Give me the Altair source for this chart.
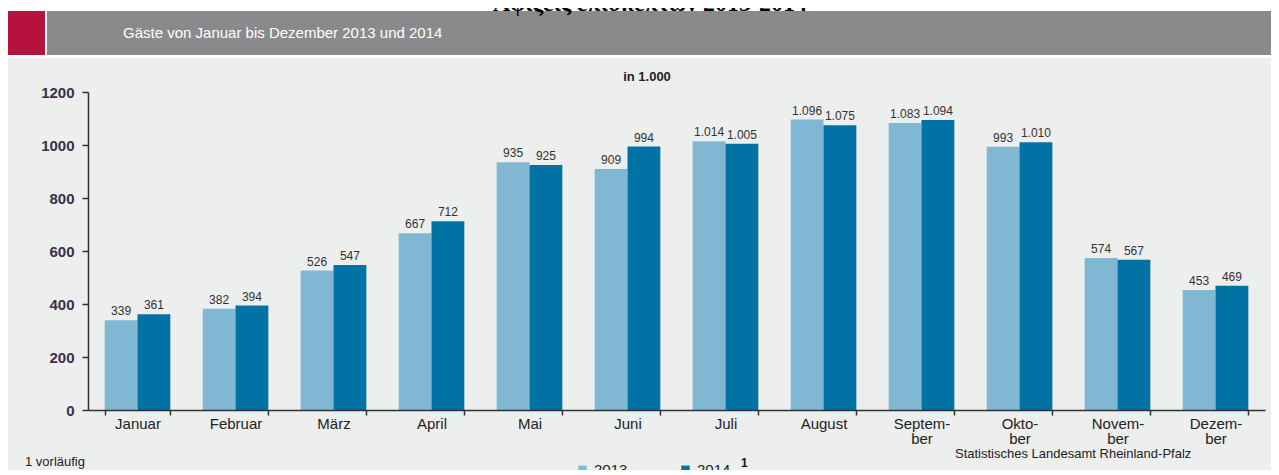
import altair as alt
import pandas as pd

months = ["Januar", "Februar", "März", "April", "Mai", "Juni", "Juli", "August",
          "Septem-|ber", "Okto-|ber", "Novem-|ber", "Dezem-|ber"]
years = ["2013", "2014"]
v2013 = [339, 382, 526, 667, 935, 909, 1014, 1096, 1083, 993, 574, 453]
v2014 = [361, 394, 547, 712, 925, 994, 1005, 1075, 1094, 1010, 567, 469]
y_ticks = [0, 200, 400, 600, 800, 1000, 1200]

rows = []
for m, a, b in zip(months, v2013, v2014):
    rows.append({"Monat": m, "Jahr": "2013", "Wert": a})
    rows.append({"Monat": m, "Jahr": "2014", "Wert": b})
df = pd.DataFrame(rows)

W, H = 1177, 318
one = alt.Data(values=[{}])

def rect(x, x2, y, y2, color):
    return alt.Chart(one).mark_rect(color=color).encode(
        x=alt.value(x), x2=alt.value(x2), y=alt.value(y), y2=alt.value(y2))

def label(text, x, y, size, color="#333333", weight="normal", font="Liberation Sans",
          align="left", baseline="middle"):
    return alt.Chart(one).mark_text(
        text=text, fontSize=size, color=color, fontWeight=weight, font=font,
        align=align, baseline=baseline).encode(x=alt.value(x), y=alt.value(y))

greek = label("Αφίξεις επισκεπτών 2013-2014", 562, -81, 24, color="#000000",
              weight="bold", font="Liberation Serif", align="center", baseline="alphabetic")
bg = rect(-85, 1191, -34, 380, "#edeeee")
crimson = rect(-85, -43, -81, -37, "#b5123e")
header = rect(-41, 1191, -81, -37, "#8a8a8c")
header_text = label("Gäste von Januar bis Dezember 2013 und 2014", 35, -59, 15, color="#ffffff")
unit = label("in 1.000", 559, -15, 13, color="#222222", weight="bold", align="center")
footnote = label("1 vorläufig", -63, 370, 13, color="#222222")
source = label("Statistisches Landesamt Rheinland-Pfalz", 867, 362, 13, color="#222222")
sup = label("1", 653, 371, 12, color="#111111", weight="bold")

x_enc = alt.X("Monat:N", sort=months, title=None,
              scale=alt.Scale(paddingInner=0.33, paddingOuter=0.17),
              axis=alt.Axis(labelAngle=0, labelExpr="split(datum.label, '|')",
                            labelFontSize=15, labelColor="#222222", labelFont="Liberation Sans",
                            labelLineHeight=15, labelPadding=1, tickBand="extent",
                            tickSize=5, tickColor="#333333", domainColor="#333333",
                            domainWidth=1.5, tickWidth=1.5, zindex=2))

bars = alt.Chart(df).mark_bar().encode(
    x=x_enc,
    xOffset=alt.XOffset("Jahr:N", sort=years, scale=alt.Scale(paddingInner=0, paddingOuter=0)),
    y=alt.Y("Wert:Q", title=None, scale=alt.Scale(domain=[0, 1200], nice=False),
            axis=alt.Axis(values=y_ticks, format="d", labelFontSize=15, labelColor="#3a2f4a",
                          labelFont="Liberation Sans", labelFontWeight="bold",
                          labelPadding=8, tickSize=6, tickColor="#333333",
                          domainColor="#333333", domainWidth=1.5, tickWidth=1.5, grid=False,
                          zindex=2)),
    color=alt.Color("Jahr:N", sort=years,
                    scale=alt.Scale(domain=years, range=["#80b8d3", "#0072a3"]),
                    legend=alt.Legend(title=None, orient="none", legendX=487, legendY=370,
                                      direction="horizontal", symbolType="square",
                                      symbolSize=70, labelFontSize=15, labelColor="#222222",
                                      labelFont="Liberation Sans", columnPadding=50,
                                      symbolStrokeWidth=0, zindex=2)),
)

texts = alt.Chart(df).transform_calculate(
    lab="datum.Wert >= 1000 ? '1.' + substring(toString(datum.Wert), 1) : toString(datum.Wert)"
).mark_text(dy=-9, fontSize=12, color="#333333", font="Liberation Sans").encode(
    x=alt.X("Monat:N", sort=months),
    xOffset=alt.XOffset("Jahr:N", sort=years),
    y=alt.Y("Wert:Q"),
    text="lab:N",
)

chart = alt.layer(bg, crimson, header, greek, header_text, unit, bars, texts,
                  footnote, source, sup).properties(
    width=W, height=H,
    autosize=alt.AutoSizeParams(type="none"),
    padding={"left": 80, "top": 84, "right": 6, "bottom": 60},
    background="#ffffff",
).configure_view(stroke=None)

chart.save("out.html", embed_options={"renderer": "svg", "actions": False})
